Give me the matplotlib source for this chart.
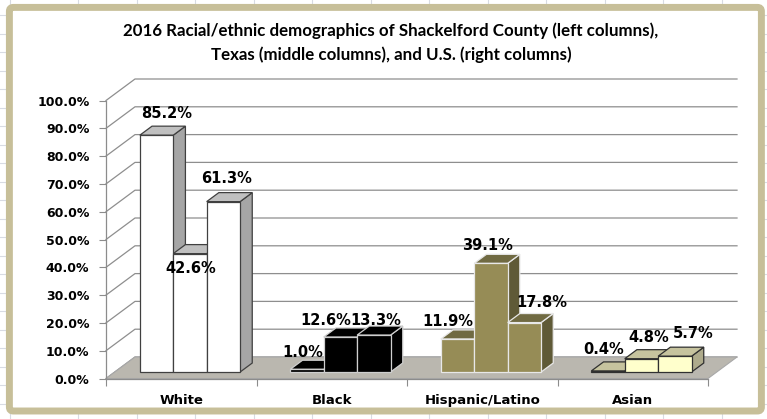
import matplotlib
matplotlib.use('Agg')
import matplotlib.pyplot as plt
from matplotlib.patches import Polygon, FancyBboxPatch
from matplotlib.lines import Line2D
from matplotlib.transforms import IdentityTransform

# data
categories = ['White', 'Black', 'Hispanic/Latino', 'Asian']
shackelford = [85.2, 1.0, 11.9, 0.4]
texas = [42.6, 12.6, 39.1, 4.8]
us = [61.3, 13.3, 17.8, 5.7]
yticks = [0, 10, 20, 30, 40, 50, 60, 70, 80, 90, 100]

title = ('2016 Racial/ethnic demographics of Shackelford County (left columns),\n'
         'Texas (middle columns), and U.S. (right columns)')

# colours per category: front, top, side, edge
cat_colors = [
    ('#ffffff', '#c0c0c0', '#a6a6a6', '#404040'),
    ('#000000', '#000000', '#000000', '#cfcfcf'),
    ('#968c56', '#706a42', '#5f5a37', '#e8e8e8'),
    ('#ffffcc', '#c6c39e', '#aeab8c', '#303030'),
]

# label nudges in pixels (right, down) relative to the bar front top
label_nudge = [
    [(10.5, -22), (-4, -17), (-9.5, -17), (-4, -21)],
    [(1, 15), (-14.5, -17), (-3, -18), (7.5, -21)],
    [(3.5, -23.5), (2, -15), (17.5, -20.5), (18, -23)],
]

plt.rcParams['font.family'] = 'DejaVu Sans'
plt.rcParams['font.weight'] = 'bold'

W, H = 767, 419
fig = plt.figure(figsize=(W / 100, H / 100), dpi=100)
fig.patch.set_facecolor('white')

# spreadsheet grid behind the chart
for k in range(12):
    x = 78 + 58.5 * k
    fig.add_artist(Line2D([x, x], [0, H], color='#d8dbe3', lw=0.8,
                          transform=IdentityTransform(), zorder=-3))
for k in range(24):
    y = H - (15 + 18.5 * k)
    fig.add_artist(Line2D([0, W], [y, y], color='#d8dbe3', lw=0.8,
                          transform=IdentityTransform(), zorder=-3))
fig.add_artist(Line2D([10, 10], [0, H], color='#d8dbe3', lw=0.8,
                      transform=IdentityTransform(), zorder=-3))

frame = FancyBboxPatch((9.4, 8), 752, 403.6, boxstyle='round,pad=0,rounding_size=4',
                       lw=5.0, ec='#c7bf99', fc='white',
                       transform=IdentityTransform(), zorder=-2)
fig.add_artist(frame)

ax = fig.add_axes([106 / W, 40.5 / H, 602 / W, 278 / H])
ax.set_xlim(-0.5, 3.5)
ax.set_ylim(0, 100)
ax.patch.set_visible(False)

DX, DY = 29, 21.5      # full depth of the plot box, pixels
D0, D1 = 0.30, 0.72    # front and back of the columns
w = 0.222              # column width, category units


def proj(x, y, d):
    px, py = ax.transData.transform((x, y))
    return (px + d * DX, py + d * DY)


def face(pts, fc, ec, lw, z):
    ax.add_patch(Polygon(pts, closed=True, facecolor=fc, edgecolor=ec, lw=lw,
                         transform=IdentityTransform(), clip_on=False, zorder=z))


# back wall and side wall gridlines
for v in yticks:
    a, b, c = proj(-0.5, v, 0), proj(-0.5, v, 1), proj(3.5, v, 1)
    ax.add_line(Line2D([a[0], b[0], c[0]], [a[1], b[1], c[1]], color='#8e8e8e', lw=0.9,
                       transform=IdentityTransform(), clip_on=False, zorder=1))

# floor
face([proj(-0.5, 0, 0), proj(3.5, 0, 0), proj(3.5, 0, 1), proj(-0.5, 0, 1)],
     '#bab7af', '#a8a8a8', 0.8, 2)

# columns, drawn left to right so each one hides the side of the previous
for i in range(len(categories)):
    front, top, side, edge = cat_colors[i]
    for j, series in enumerate([shackelford, texas, us]):
        v = series[i]
        x0 = i + (j - 1.5) * w
        x1 = x0 + w
        face([proj(x1, 0, D0), proj(x1, 0, D1), proj(x1, v, D1), proj(x1, v, D0)],
             side, edge, 0.9, 3)
        face([proj(x0, v, D0), proj(x1, v, D0), proj(x1, v, D1), proj(x0, v, D1)],
             top, edge, 0.9, 3)
        face([proj(x0, 0, D0), proj(x1, 0, D0), proj(x1, v, D0), proj(x0, v, D0)],
             front, edge, 0.9, 3)

# data labels
for j, series in enumerate([shackelford, texas, us]):
    for i, v in enumerate(series):
        xc = i + (j - 1) * w
        dx, dy = label_nudge[j][i]
        ax.annotate(f'{v:.1f}%', xy=(xc, v), xytext=(D0 * DX + dx, D0 * DY - dy),
                    textcoords='offset pixels', ha='center', va='center',
                    fontsize=10.5, fontweight='bold', color='black', zorder=5,
                    annotation_clip=False)

# axes
for s in ['top', 'right']:
    ax.spines[s].set_visible(False)
for s in ['left', 'bottom']:
    ax.spines[s].set_color('#8c8c8c')
    ax.spines[s].set_linewidth(0.9)

ax.set_yticks(yticks)
ax.set_yticklabels([f'{v:.1f}%' for v in yticks])
ax.tick_params(axis='y', length=5, width=0.8, color='#8c8c8c', pad=7, labelsize=9)
ax.set_xticks(range(len(categories)))
ax.set_xticklabels(categories)
ax.set_xticks([-0.5, 0.5, 1.5, 2.5, 3.5], minor=True)
ax.tick_params(axis='x', which='major', length=0, pad=11, labelsize=9.5)
ax.tick_params(axis='x', which='minor', length=5, width=0.8, color='#8c8c8c')

fig.text(391 / W, 1 - 43 / H, title, ha='center', va='center', family='Lato',
         fontsize=12.2, fontweight='bold', linespacing=1.55)

fig.savefig('out.png', dpi=100)
